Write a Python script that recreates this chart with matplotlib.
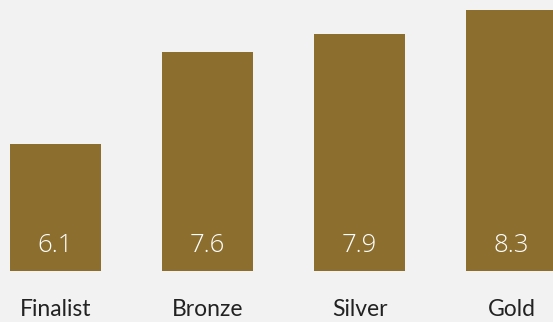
import matplotlib.pyplot as plt

categorias = ['Finalist', 'Bronze', 'Silver', 'Gold']
valores = [6.1, 7.6, 7.9, 8.3]

fig = plt.figure(figsize=(5.53, 3.22), dpi=100, facecolor='#f2f2f2')
ax = fig.add_axes([0, 0.157, 1, 0.843])
ax.set_facecolor('#f2f2f2')

x = range(len(categorias))
ax.bar(x, valores, width=0.6, color='#8c6e2f')
ax.set_xlim(-0.365, 3.273)
ax.set_ylim(4.0, 8.457)

for i, v in enumerate(valores):
    ax.text(i, 4.42, f'{v}', ha='center', va='center', color='white',
            fontsize=18.5, family='Open Sans', fontweight=300)
    ax.text(i, 3.38, categorias[i], ha='center', va='center', color='#222222',
            fontsize=16.5, family='Lato', clip_on=False)

ax.axis('off')
fig.savefig('out.png', dpi=100, facecolor='#f2f2f2')
